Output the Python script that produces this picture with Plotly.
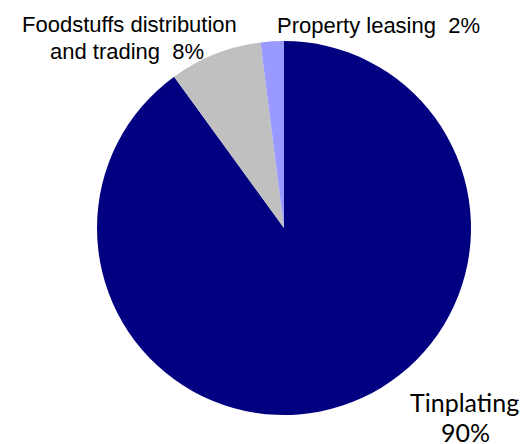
import plotly.graph_objects as go

# Revenue share by business segment
segments = ["Tinplating", "Foodstuffs distribution and trading", "Property leasing"]
shares = [90, 8, 2]
colors = ["#000080", "#C0C0C0", "#9999FF"]

W, H = 522, 444
cx, cy, r = 284, 228, 187  # pie centre and radius in pixels

fig = go.Figure(go.Pie(
    labels=segments,
    values=shares,
    sort=False,
    direction="clockwise",
    rotation=0,
    marker=dict(colors=colors, line=dict(width=0)),
    textinfo="none",
    hoverinfo="label+percent",
    domain=dict(x=[(cx - r) / W, (cx + r) / W],
                y=[(H - cy - r) / H, (H - cy + r) / H]),
    showlegend=False,
))

# Outside labels, one annotation per text line: (x, y) pixel centres
label_lines = {
    "Tinplating": (lambda n, v: [n, f"{v}%"],
                   [(464, 402), (465, 432)], "Lato", 25),
    "Foodstuffs distribution and trading": (
        lambda n, v: ["Foodstuffs distribution", f"and trading  {v}%"],
        [(129, 24), (127, 51)], "Liberation Sans", 22),
    "Property leasing": (lambda n, v: [f"{n}  {v}%"],
                         [(378, 26)], "Liberation Sans", 22),
}
for name, val in zip(segments, shares):
    make_lines, positions, fam, size = label_lines[name]
    for line, (x, y) in zip(make_lines(name, val), positions):
        fig.add_annotation(
            x=x / W, y=1 - y / H, xref="paper", yref="paper",
            text=line, showarrow=False,
            xanchor="center", yanchor="middle",
            font=dict(family=fam, size=size, color="#000000"),
        )

fig.update_layout(
    width=W, height=H,
    margin=dict(l=0, r=0, t=0, b=0),
    paper_bgcolor="#FFFFFF",
    plot_bgcolor="#FFFFFF",
)

fig.write_html("out.html")
